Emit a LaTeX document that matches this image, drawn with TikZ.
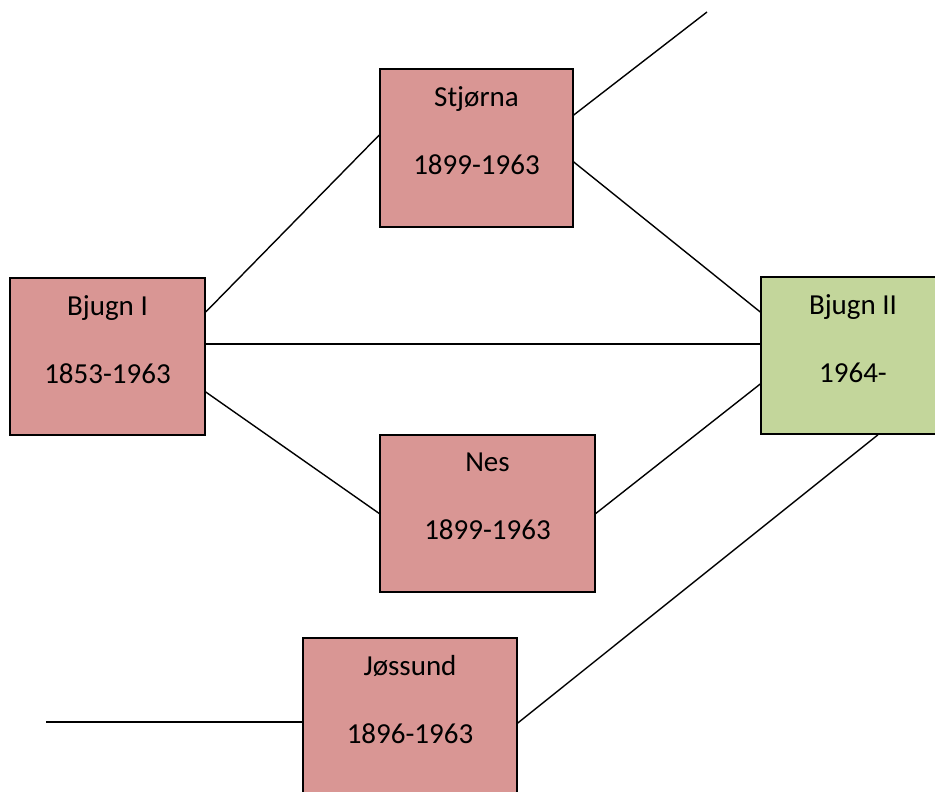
\documentclass[tikz,border=0pt]{standalone}
\usepackage{fontspec}
\setmainfont{Carlito}
\definecolor{parishred}{RGB}{217,150,148}
\definecolor{parishgreen}{RGB}{195,214,155}

\begin{document}
\begin{tikzpicture}[x=1pt,y=-1pt,
    parish/.style={draw,line width=1.5pt,fill=parishred,align=center,inner sep=0pt,
      font=\fontsize{29}{34}\selectfont,minimum height=157pt,
      execute at begin node=\rule{0pt}{26pt}},
    link/.style={line width=1.4pt}]
    \useasboundingbox (0,0) rectangle (935,792);
    % the parishes
    \node[parish,minimum width=195pt] (bjugnI) at (107.5,356.5) {Bjugn I\\ \\ 1853-1963\\ \mbox{}};
    \node[parish,minimum width=193pt,minimum height=158pt] (stjorna) at (476.5,148) {Stjørna\\ \\ 1899-1963\\ \mbox{}};
    \node[parish,minimum width=215pt] (nes) at (487.5,513.5) {Nes\\ \\ 1899-1963\\ \mbox{}};
    \node[parish,minimum width=214pt] (jossund) at (410,716.5) {Jøssund\\ \\ 1896-1963\\ \mbox{}};
    \node[parish,fill=parishgreen,minimum width=184pt] (bjugnII) at (853,355.5) {Bjugn II\\ \\ 1964-\\ \mbox{}};
    % loose ends
    \coordinate (stjEnd) at (707,12);
    \coordinate (josEnd) at (46,722);
    % links
    \draw[link] ([yshift=33pt]stjorna.east) -- (stjEnd);
    \draw[link] ([yshift=44.5pt]bjugnI.east) -- ([yshift=13pt]stjorna.west);
    \draw[link] ([yshift=-14pt]stjorna.east) -- ([yshift=43.5pt]bjugnII.west);
    \draw[link] ([yshift=12.5pt]bjugnI.east) -- ([yshift=11.5pt]bjugnII.west);
    \draw[link] ([yshift=-35.5pt]bjugnI.east) -- (nes.west);
    \draw[link] (nes.east) -- ([yshift=-28.5pt]bjugnII.west);
    \draw[link] ([xshift=25pt]bjugnII.south) -- ([yshift=-6.5pt]jossund.east);
    \draw[link] ([yshift=-5.5pt]jossund.west) -- (josEnd);
\end{tikzpicture}
\end{document}
